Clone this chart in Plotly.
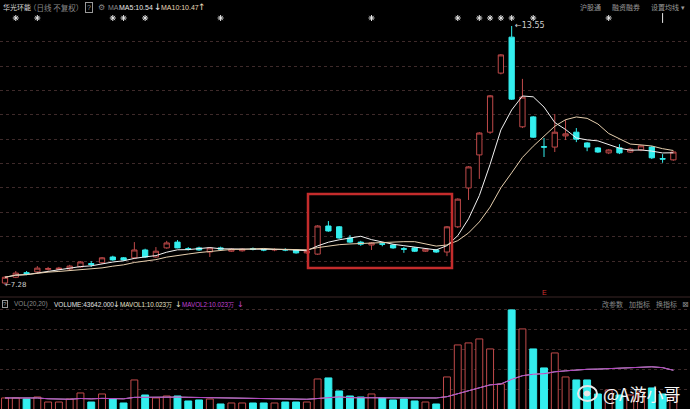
import plotly.graph_objects as go
import pandas as pd

# ---------------- data ----------------
days = list(range(63))
opens = [7.33, 7.47, 7.58, 7.60, 7.66, 7.66, 7.67, 7.72, 7.80, 7.82,
         7.96, 7.94, 7.94, 8.13, 7.96, 8.18, 8.32, 8.16, 8.18, 8.08,
         8.18, 8.10, 8.11, 8.16, 8.14, 8.13, 8.14, 8.13, 8.06, 8.03,
         8.71, 8.69, 8.42, 8.32, 8.25, 8.28, 8.25, 8.16, 8.18, 8.10,
         8.13, 8.08, 8.69, 9.63, 10.43, 10.98, 12.41, 13.28, 11.11, 11.35,
         10.63, 10.62, 10.89, 10.98, 10.72, 10.60, 10.48, 10.60, 10.50, 10.55,
         10.62, 10.34, 10.31]
highs = [7.50, 7.62, 7.62, 7.74, 7.72, 7.72, 7.77, 7.86, 7.86, 7.96,
         7.99, 7.96, 8.32, 8.16, 8.20, 8.35, 8.37, 8.20, 8.21, 8.20,
         8.21, 8.17, 8.17, 8.19, 8.17, 8.17, 8.17, 8.15, 8.12, 8.73,
         8.83, 8.71, 8.49, 8.35, 8.32, 8.32, 8.27, 8.20, 8.20, 8.17,
         8.15, 8.71, 9.38, 10.16, 10.98, 11.88, 12.87, 13.55, 12.27, 11.37,
         10.84, 11.42, 11.28, 11.08, 10.74, 10.62, 10.57, 10.69, 10.60, 10.67,
         10.65, 10.45, 10.52]
lows = [7.28, 7.45, 7.52, 7.57, 7.63, 7.64, 7.64, 7.70, 7.72, 7.80,
        7.87, 7.86, 7.91, 7.94, 7.94, 8.16, 8.17, 8.12, 8.11, 7.96,
        8.13, 8.08, 8.09, 8.12, 8.10, 8.10, 8.10, 8.04, 8.04, 8.01,
        8.57, 8.40, 8.30, 8.23, 8.13, 8.22, 8.16, 8.06, 8.08, 8.08,
        8.06, 7.98, 8.66, 9.34, 9.85, 10.94, 12.38, 11.76, 11.08, 10.84,
        10.38, 10.50, 10.79, 10.74, 10.52, 10.48, 10.45, 10.45, 10.48, 10.52,
        10.33, 10.24, 10.29]
closes = [7.47, 7.57, 7.56, 7.69, 7.68, 7.69, 7.74, 7.84, 7.78, 7.94,
          7.89, 7.89, 8.13, 7.96, 8.10, 8.30, 8.18, 8.15, 8.13, 8.18,
          8.15, 8.15, 8.15, 8.15, 8.13, 8.14, 8.13, 8.06, 8.10, 8.71,
          8.59, 8.42, 8.32, 8.27, 8.30, 8.27, 8.18, 8.15, 8.10, 8.15,
          8.08, 8.69, 9.36, 10.14, 10.96, 11.86, 12.85, 11.78, 11.83, 10.86,
          10.62, 10.98, 10.94, 10.81, 10.62, 10.50, 10.55, 10.48, 10.57, 10.65,
          10.36, 10.33, 10.50]
volumes = [4.10, 4.10, 3.82, 4.37, 3.00, 3.00, 3.82, 5.46, 3.00, 5.19,
           3.82, 2.73, 9.01, 4.91, 4.10, 4.64, 4.64, 3.28, 3.55, 3.82,
           2.46, 2.73, 2.73, 2.73, 2.73, 2.73, 3.00, 3.00, 3.00, 9.28,
           9.56, 6.01, 4.64, 4.37, 5.19, 4.10, 3.55, 3.82, 3.28, 3.00,
           2.46, 9.83, 18.56, 19.11, 20.20, 17.47, 7.92, 28.12, 22.93, 17.47,
           12.29, 16.38, 9.83, 9.01, 9.01, 5.19, 6.28, 4.91, 4.91, 5.73,
           6.83, 5.19, 4.36]
event_days = [1, 3, 10, 11, 13, 20, 34, 42, 44, 45, 46, 47, 49, 56]
flag_days = [61]

UP = "#c04a4a"
DOWN = "#33eeee"
BG = "#000000"
FONT = "Noto Sans CJK SC"
LAT = "Liberation Sans"

df = pd.DataFrame({"o": opens, "h": highs, "l": lows, "c": closes, "v": volumes})
ma5 = df["c"].rolling(5, min_periods=1).mean()
ma10 = df["c"].rolling(10, min_periods=1).mean()
mavol = df["v"].rolling(20, min_periods=1).mean()

W, H = 690, 409


def px(x):
    return x / W


def py(y):
    return 1 - y / H


fig = go.Figure()

fig.add_trace(go.Candlestick(
    x=days, open=opens, high=highs, low=lows, close=closes,
    increasing=dict(line=dict(color=UP, width=1), fillcolor=BG),
    decreasing=dict(line=dict(color=DOWN, width=1), fillcolor=DOWN),
    whiskerwidth=0, xaxis="x", yaxis="y", hoverinfo="skip", showlegend=False))
fig.add_trace(go.Scatter(x=days, y=ma5, mode="lines", line=dict(color="#f2f2f2", width=1),
                         xaxis="x", yaxis="y", showlegend=False, hoverinfo="skip"))
fig.add_trace(go.Scatter(x=days, y=ma10, mode="lines", line=dict(color="#e6cfae", width=1),
                         xaxis="x", yaxis="y", showlegend=False, hoverinfo="skip"))

# event markers (stars) in the top strip
fig.add_trace(go.Scatter(x=event_days, y=[0.5] * len(event_days), mode="markers",
                         marker=dict(symbol="asterisk-open", size=5, color="#e8e8e8",
                                     line=dict(color="#e8e8e8", width=1)),
                         xaxis="x", yaxis="y3", showlegend=False, hoverinfo="skip", cliponaxis=False))
fig.add_trace(go.Scatter(x=flag_days, y=[0.5] * len(flag_days), mode="markers",
                         marker=dict(symbol="line-ns-open", size=7, color="#e8e8e8",
                                     line=dict(color="#e8e8e8", width=1)),
                         xaxis="x", yaxis="y3", showlegend=False, hoverinfo="skip", cliponaxis=False))

vcol = [UP if c > o else DOWN for o, c in zip(opens, closes)]
vfill = [BG if c > o else DOWN for o, c in zip(opens, closes)]
fig.add_trace(go.Bar(x=days, y=volumes, width=0.64,
                     marker=dict(color=vfill, line=dict(color=vcol, width=1)),
                     xaxis="x2", yaxis="y2", showlegend=False, hoverinfo="skip"))
fig.add_trace(go.Scatter(x=days, y=mavol, mode="lines", line=dict(color="#dddddd", width=1),
                         xaxis="x2", yaxis="y2", showlegend=False, hoverinfo="skip"))
fig.add_trace(go.Scatter(x=days, y=mavol, mode="lines", line=dict(color="#b040c0", width=1),
                         xaxis="x2", yaxis="y2", showlegend=False, hoverinfo="skip"))

xr = [-5 / 10.78, (W - 5) / 10.78]
price_grid = [7.86 + 0.59 * i for i in range(10)]
vol_grid = [6.54 + 5.455 * i for i in range(5)]
GRID = "#3e2a2a"

fig.update_layout(
    width=W, height=H, margin=dict(l=0, r=0, t=0, b=0, pad=0, autoexpand=False),
    paper_bgcolor=BG, plot_bgcolor=BG, showlegend=False,
    font=dict(family=FONT, color="#9a9a9a", size=10),
    xaxis=dict(domain=[0, 1], range=xr, visible=False, rangeslider=dict(visible=False)),
    xaxis2=dict(domain=[0, 1], range=xr, visible=False, anchor="y2"),
    yaxis=dict(domain=[py(296), py(20)], range=[7.016, 13.695], showticklabels=False,
               tickvals=price_grid, showgrid=True, gridcolor=GRID, griddash="dot",
               gridwidth=1, zeroline=False, showline=False, ticks=""),
    yaxis2=dict(domain=[0, py(300)], range=[1.09, 30.82], showticklabels=False,
                tickvals=vol_grid, showgrid=True, gridcolor=GRID, griddash="dot",
                gridwidth=1, zeroline=False, showline=False, ticks="", anchor="x2"),
    yaxis3=dict(domain=[py(23), py(13)], range=[0, 1], visible=False, anchor="x"),
    bargap=0.3,
)

shapes = []
shapes.append(dict(type="line", xref="paper", yref="paper", x0=0, x1=1, y0=py(297), y1=py(297),
                   line=dict(color="#3a2626", width=1)))
shapes.append(dict(type="rect", xref="paper", yref="paper", x0=px(308), x1=px(452),
                   y0=py(268), y1=py(194), line=dict(color="#c42c2c", width=2.5)))
# weibo logo approximation
shapes.append(dict(type="circle", xref="paper", yref="paper", x0=px(578), x1=px(597),
                   y0=py(401), y1=py(386), line=dict(color="#e8e8e8", width=2)))
shapes.append(dict(type="circle", xref="paper", yref="paper", x0=px(584), x1=px(590),
                   y0=py(396), y1=py(391), fillcolor="#e8e8e8", line=dict(color="#e8e8e8", width=1)))
fig.update_layout(shapes=shapes)

ann = []


def txt(x, y, s, color="#9a9a9a", size=10, anchor="left", family=FONT, **kw):
    ann.append(dict(x=px(x), y=py(y), xref="paper", yref="paper", text=s, showarrow=False,
                    xanchor=anchor, yanchor="middle", font=dict(color=color, size=size, family=family), **kw))


# header
txt(1, 7, "华光环能", color="#d8d8d8", size=7)
txt(27, 7, "（日线 不复权）", color="#8a8a8a", size=7.5)
txt(85, 7, "?", color="#9a9a9a", size=7, family=LAT, bordercolor="#9a9a9a", borderwidth=1, borderpad=1)
txt(96, 7, "⚙", color="#8a8a8a", size=8, family="DejaVu Sans")
txt(106, 7, "MA", color="#8a8a8a", size=7, family=LAT)
txt(117, 7, "MA5:10.54", color="#e8e8e8", size=7, family=LAT)
txt(152, 7, "↓", color="#e8e8e8", size=9, family="DejaVu Sans")
txt(159, 7, "MA10:10.47", color="#e8d9b8", size=7, family=LAT)
txt(196, 7, "↑", color="#e8d9b8", size=9, family="DejaVu Sans")
txt(578, 7, "沪股通", color="#9a9a9a", size=7)
txt(610, 7, "融资融券", color="#9a9a9a", size=7)
txt(649, 7, "设置均线 ▾", color="#9a9a9a", size=7)

# high / low labels
ann.append(dict(x=47, y=max(highs), xref="x", yref="y", text="←13.55", showarrow=False,
                xanchor="left", yanchor="middle", xshift=1, font=dict(color="#d0d0d0", size=8, family="DejaVu Sans")))
ann.append(dict(x=0, y=min(lows), xref="x", yref="y", text="←7.28", showarrow=False,
                xanchor="left", yanchor="middle", xshift=-2, font=dict(color="#d0d0d0", size=7, family="DejaVu Sans")))
txt(540, 292, "E", color="#d03030", size=7, family=LAT)

# volume header
txt(2, 304, "?", color="#9a9a9a", size=6, family=LAT, bordercolor="#9a9a9a", borderwidth=1, borderpad=0)
txt(12, 304, "VOL(20,20)", color="#8a8a8a", size=6.5, family=LAT)
txt(52, 304, "VOLUME:43642.000", color="#e0e0e0", size=6.5, family=LAT)
txt(111, 304, "↓", color="#e0e0e0", size=8, family="DejaVu Sans")
txt(118, 304, "MAVOL1:10.023万", color="#e8e0c8", size=6.3, family=LAT)
txt(173, 304, "↓", color="#e8e0c8", size=8, family="DejaVu Sans")
txt(180, 304, "MAVOL2:10.023万", color="#c040d0", size=6.3, family=LAT)
txt(235, 304, "↓", color="#c040d0", size=8, family="DejaVu Sans")
txt(600, 304, "改参数", color="#8a8a8a", size=7)
txt(627, 304, "加指标", color="#8a8a8a", size=7)
txt(654, 304, "换指标", color="#8a8a8a", size=7)
txt(680, 304, "⊠", color="#8a8a8a", size=8, family="DejaVu Sans")

# watermark
txt(601, 393, "@A游小哥", color="#f4f4f4", size=17)

fig.update_layout(annotations=ann)
fig.write_html("out.html", config={"displayModeBar": False},
               post_script="document.body.style.margin='0px';")
